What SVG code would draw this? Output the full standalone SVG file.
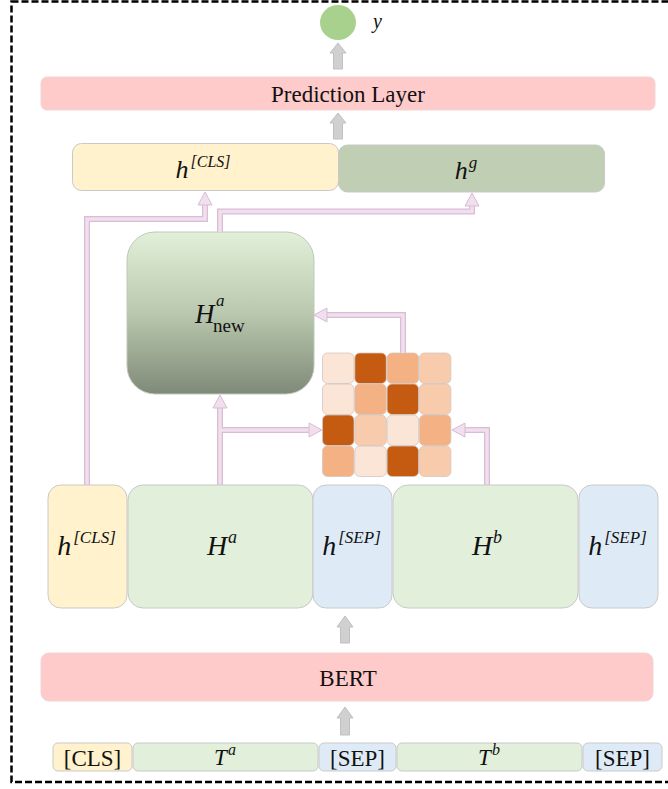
<svg xmlns="http://www.w3.org/2000/svg" width="668" height="789" viewBox="0 0 668 789">
  <defs>
    <linearGradient id="gNew" x1="0" y1="0" x2="0" y2="1">
      <stop offset="0" stop-color="#E2F0D9"/>
      <stop offset="0.5" stop-color="#B9C8AE"/>
      <stop offset="1" stop-color="#7F8A78"/>
    </linearGradient>
  </defs>
  <style>
    .box { stroke: #C9C9C9; stroke-width: 1; }
    .yellow { fill: #FFF2CC; }
    .green { fill: #E2EFDA; }
    .blue { fill: #DEEBF7; }
    .pink { fill: #FFCACA; stroke: #F2D4D4; stroke-width: 1; }
    .sage { fill: #C0CEB4; }
    .txt { font-family: "Liberation Serif", "Times New Roman", serif; fill: #111; text-anchor: middle; }
    .math { font-family: "Liberation Serif", "Times New Roman", serif; font-style: italic; fill: #111; }
    .up { font-family: "Liberation Serif", serif; font-style: normal; fill: #111; }
    .gray { fill: #D0D0D0; stroke: #C0C0C0; stroke-width: 1; }
    .c-out { fill: none; stroke: #D8BDD4; stroke-width: 6; stroke-linejoin: miter; }
    .c-in { fill: none; stroke: #F1DEEE; stroke-width: 3.5; stroke-linejoin: miter; }
    .c-head { fill: #F1DEEE; stroke: #D8BDD4; stroke-width: 1; }
    .m0 { fill: #FBE5D6; }
    .m1 { fill: #F8CBAD; }
    .m2 { fill: #F4B183; }
    .m3 { fill: #C55A11; }
    .cell { stroke: #D2C6C0; stroke-width: 0.8; }
  </style>

  <!-- outer dashed frame -->
  <rect x="11.5" y="1.5" width="700" height="780.5" fill="none" stroke="#000" stroke-width="2.5" stroke-dasharray="7 3"/>

  <!-- output -->
  <g id="output">
    <ellipse cx="338" cy="22.5" rx="18" ry="17.5" fill="#A9D18E"/>
    <text class="math" x="373" y="28" font-size="20">y</text>
  </g>

  <!-- upward block arrows -->
  <g id="flow-arrows">
    <polygon class="gray" points="338,43 346,53 342.5,53 342.5,69 333.5,69 333.5,53 330,53"/>
    <polygon class="gray" points="338,113 346,123 342.5,123 342.5,139 333.5,139 333.5,123 330,123"/>
    <polygon class="gray" points="345,616 353,627 349.5,627 349.5,643 340.5,643 340.5,627 337,627"/>
    <polygon class="gray" points="345,707 353,718 349.5,718 349.5,735 340.5,735 340.5,718 337,718"/>
  </g>

  <g id="prediction-layer">
    <rect class="pink" x="41" y="77" width="614" height="33" rx="6"/>
    <text class="txt" x="348" y="101.5" font-size="23">Prediction Layer</text>
  </g>

  <g id="h-cls-top">
    <rect class="box yellow" x="72.5" y="143.5" width="266" height="47" rx="9"/>
    <text class="math" x="203" y="178" text-anchor="middle"><tspan font-size="26">h</tspan><tspan font-size="16" dx="2" dy="-11">[CLS]</tspan></text>
  </g>

  <g id="h-g">
    <rect class="box sage" x="338.5" y="145" width="266" height="47" rx="9"/>
    <text class="math" x="466" y="179" text-anchor="middle"><tspan font-size="26">h</tspan><tspan font-size="17" dx="1" dy="-11">g</tspan></text>
  </g>

  <g id="h-new">
    <rect x="127" y="232" width="187" height="162" rx="28" fill="url(#gNew)" stroke="#BFC8B8" stroke-width="1"/>
    <text class="math" x="195" y="323" font-size="27">H</text>
    <text class="math" x="216" y="306" font-size="17">a</text>
    <text class="up" x="213" y="332" font-size="19">new</text>
  </g>

  <!-- attention matrix -->
  <g id="attention-matrix">
    <rect class="cell m0" x="322.5" y="353" width="31.5" height="30.5" rx="5"/>
    <rect class="cell m3" x="354.8" y="353" width="31.5" height="30.5" rx="5"/>
    <rect class="cell m2" x="387.1" y="353" width="31.5" height="30.5" rx="5"/>
    <rect class="cell m1" x="419.4" y="353" width="31.5" height="30.5" rx="5"/>

    <rect class="cell m0" x="322.5" y="384" width="31.5" height="30.5" rx="5"/>
    <rect class="cell m2" x="354.8" y="384" width="31.5" height="30.5" rx="5"/>
    <rect class="cell m3" x="387.1" y="384" width="31.5" height="30.5" rx="5"/>
    <rect class="cell m1" x="419.4" y="384" width="31.5" height="30.5" rx="5"/>

    <rect class="cell m3" x="322.5" y="415" width="31.5" height="30.5" rx="5"/>
    <rect class="cell m1" x="354.8" y="415" width="31.5" height="30.5" rx="5"/>
    <rect class="cell m0" x="387.1" y="415" width="31.5" height="30.5" rx="5"/>
    <rect class="cell m2" x="419.4" y="415" width="31.5" height="30.5" rx="5"/>

    <rect class="cell m2" x="322.5" y="446" width="31.5" height="30.5" rx="5"/>
    <rect class="cell m0" x="354.8" y="446" width="31.5" height="30.5" rx="5"/>
    <rect class="cell m3" x="387.1" y="446" width="31.5" height="30.5" rx="5"/>
    <rect class="cell m1" x="419.4" y="446" width="31.5" height="30.5" rx="5"/>
  </g>

  <!-- connectors -->
  <g id="connectors">
    <path class="c-out" d="M87,485 V219 H205 V205"/>
    <path class="c-out" d="M220,232 V211.5 H472 V206"/>
    <path class="c-out" d="M220,485 V408"/>
    <path class="c-out" d="M220,430 H309"/>
    <path class="c-out" d="M403,353 V315 H327"/>
    <path class="c-out" d="M487,485 V430 H465"/>
    <path class="c-in" d="M87,485 V219 H205 V205"/>
    <path class="c-in" d="M220,232 V211.5 H472 V206"/>
    <path class="c-in" d="M220,485 V408"/>
    <path class="c-in" d="M220,430 H309"/>
    <path class="c-in" d="M403,353 V315 H327"/>
    <path class="c-in" d="M487,485 V430 H465"/>
    <polygon class="c-head" points="205,192 212,205 198,205"/>
    <polygon class="c-head" points="472,193 479,206 465,206"/>
    <polygon class="c-head" points="220,395 227,408 213,408"/>
    <polygon class="c-head" points="322,430 309,423 309,437"/>
    <polygon class="c-head" points="314,315 327,308 327,322"/>
    <polygon class="c-head" points="452,430 465,423 465,437"/>
  </g>

  <!-- encoder outputs -->
  <g id="out-cls">
    <rect class="box yellow" x="48" y="485" width="79" height="123" rx="13"/>
    <text class="math" x="86.5" y="555" text-anchor="middle"><tspan font-size="28">h</tspan><tspan font-size="17" dx="2" dy="-12">[CLS]</tspan></text>
  </g>
  <g id="out-a">
    <rect class="box green" x="128" y="485" width="185" height="123" rx="15"/>
    <text class="math" x="222" y="555" text-anchor="middle"><tspan font-size="28">H</tspan><tspan font-size="18" dx="1" dy="-12">a</tspan></text>
  </g>
  <g id="out-sep1">
    <rect class="box blue" x="313" y="485" width="79" height="123" rx="13"/>
    <text class="math" x="351.5" y="555" text-anchor="middle"><tspan font-size="28">h</tspan><tspan font-size="17" dx="2" dy="-12">[SEP]</tspan></text>
  </g>
  <g id="out-b">
    <rect class="box green" x="393" y="485" width="185" height="123" rx="15"/>
    <text class="math" x="487" y="555" text-anchor="middle"><tspan font-size="28">H</tspan><tspan font-size="18" dx="1" dy="-12">b</tspan></text>
  </g>
  <g id="out-sep2">
    <rect class="box blue" x="579" y="485" width="79" height="123" rx="13"/>
    <text class="math" x="617.5" y="555" text-anchor="middle"><tspan font-size="28">h</tspan><tspan font-size="17" dx="2" dy="-12">[SEP]</tspan></text>
  </g>

  <g id="bert">
    <rect class="pink" x="41" y="653" width="612" height="48" rx="8"/>
    <text class="txt" x="348" y="686" font-size="23">BERT</text>
  </g>

  <!-- input tokens -->
  <g id="tok-cls">
    <rect class="box yellow" x="53" y="743" width="79" height="28" rx="5"/>
    <text class="txt" x="92.5" y="766" font-size="23">[CLS]</text>
  </g>
  <g id="tok-a">
    <rect class="box green" x="133" y="743" width="185" height="28" rx="5"/>
    <text class="math" x="225" y="765" text-anchor="middle"><tspan font-size="23">T</tspan><tspan font-size="16" dx="1" dy="-10">a</tspan></text>
  </g>
  <g id="tok-sep1">
    <rect class="box blue" x="319" y="743" width="77" height="28" rx="5"/>
    <text class="txt" x="357.5" y="766" font-size="23">[SEP]</text>
  </g>
  <g id="tok-b">
    <rect class="box green" x="397" y="743" width="185" height="28" rx="5"/>
    <text class="math" x="489" y="765" text-anchor="middle"><tspan font-size="23">T</tspan><tspan font-size="16" dx="1" dy="-10">b</tspan></text>
  </g>
  <g id="tok-sep2">
    <rect class="box blue" x="583" y="743" width="79" height="28" rx="5"/>
    <text class="txt" x="622.5" y="766" font-size="23">[SEP]</text>
  </g>
</svg>
